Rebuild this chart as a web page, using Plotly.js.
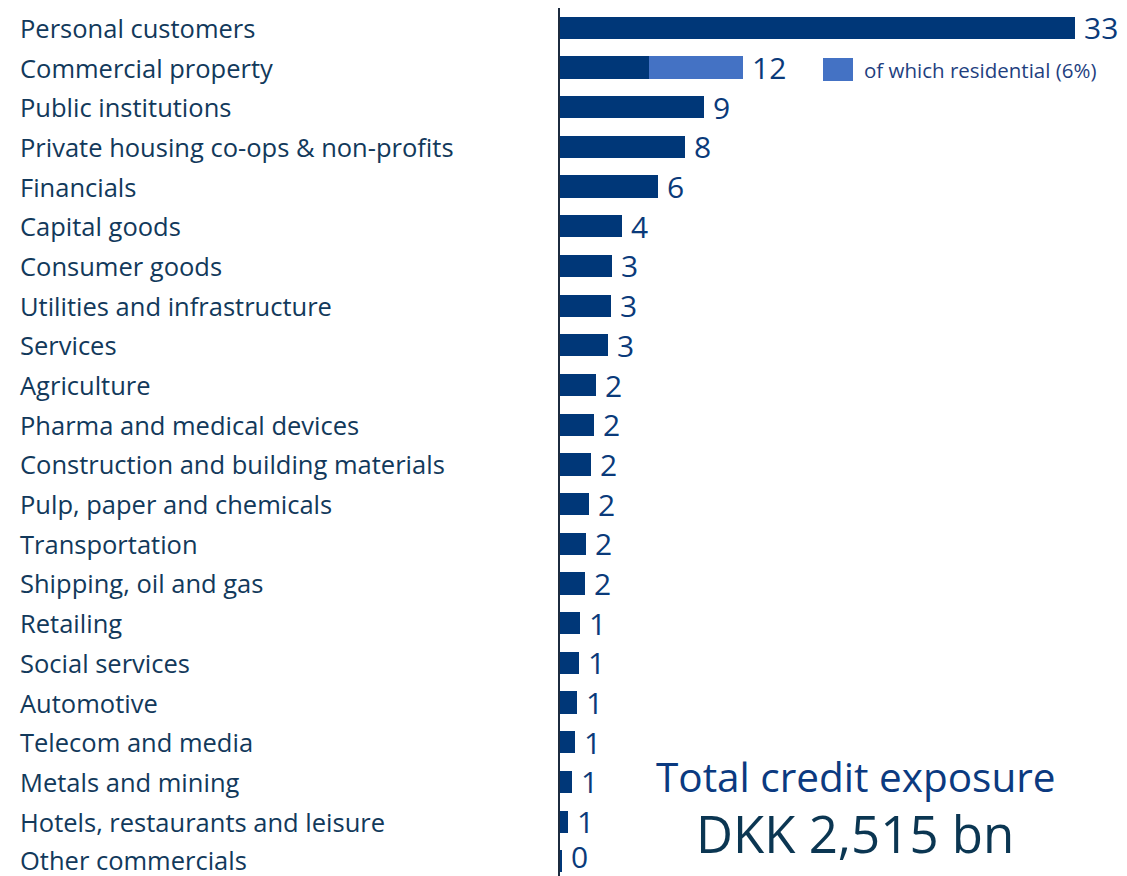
<!DOCTYPE html>
<html>
<head>
<meta charset="utf-8">
<script src="https://cdn.plot.ly/plotly-3.0.1.min.js"></script>
<style>html,body{margin:0;padding:0;background:#fff;}#chart{width:1127px;height:876px;}</style>
</head>
<body>
<div id="chart"></div>
<script>
const categories = [
  "Personal customers",
  "Commercial property",
  "Public institutions",
  "Private housing co-ops & non-profits",
  "Financials",
  "Capital goods",
  "Consumer goods",
  "Utilities and infrastructure",
  "Services",
  "Agriculture",
  "Pharma and medical devices",
  "Construction and building materials",
  "Pulp, paper and chemicals",
  "Transportation",
  "Shipping, oil and gas",
  "Retailing",
  "Social services",
  "Automotive",
  "Telecom and media",
  "Metals and mining",
  "Hotels, restaurants and leisure",
  "Other commercials"
];
// share of total credit exposure (%), total per sector
const totals = [33.0, 11.7, 9.2, 8.0, 6.25, 4.0, 3.3, 3.28, 3.05, 2.3, 2.15, 1.96, 1.83, 1.68, 1.62, 1.3, 1.21, 1.07, 0.98, 0.77, 0.53, 0.1];
// of which residential (%)
const residential = [0, 6.0, 0, 0, 0, 0, 0, 0, 0, 0, 0, 0, 0, 0, 0, 0, 0, 0, 0, 0, 0, 0];
const valueLabels = ["33", "12", "9", "8", "6", "4", "3", "3", "3", "2", "2", "2", "2", "2", "2", "1", "1", "1", "1", "1", "1", "0"];
const legendLabel = "of which residential (6%)";
const totalTitle = "Total credit exposure";
const totalValue = "DKK 2,515 bn";

const W = 1127, H = 876, L = 560, T = 8;
const pxPerUnit = 15.62;
const xMax = (W - L) / pxPerUnit;
const px2paperX = p => (p - L) / (W - L);
const px2paperY = p => (H - p) / (H - T);
const FONT = 'Open Sans';

const base = totals.map((t, i) => t - residential[i]);

const traces = [
  {type: 'bar', orientation: 'h', y: categories, x: base, marker: {color: '#003778'}, width: 0.56, hoverinfo: 'skip', showlegend: false},
  {type: 'bar', orientation: 'h', y: categories, x: residential, marker: {color: '#4472c4'}, width: 0.56, hoverinfo: 'skip', showlegend: false}
];

const annotations = [];
const last = categories.length - 1;
categories.forEach((c, i) => {
  annotations.push({xref: 'paper', yref: 'y', x: px2paperX(20), y: c, xanchor: 'left', yanchor: 'middle', yshift: i === last ? 1 : 0, borderpad: 0, borderwidth: 0,
    text: c, showarrow: false, font: {family: FONT, size: 25.5, color: '#12395b'}});
  annotations.push({xref: 'x', yref: 'y', x: totals[i], y: c, xanchor: 'left', yanchor: 'middle', xshift: 9, yshift: i === last ? 5 : 0, borderpad: 0, borderwidth: 0,
    text: valueLabels[i], showarrow: false, font: {family: FONT, size: 30, color: '#0a3a7a'}});
});
annotations.push({xref: 'paper', yref: 'paper', x: px2paperX(864), y: px2paperY(70), xanchor: 'left', yanchor: 'middle', borderpad: 0, borderwidth: 0,
  text: legendLabel, showarrow: false, font: {family: FONT, size: 20.5, color: '#1f3f7f'}});
annotations.push({xref: 'paper', yref: 'paper', x: px2paperX(855.5), y: px2paperY(776.5), xanchor: 'center', yanchor: 'middle', borderpad: 0, borderwidth: 0,
  text: totalTitle, showarrow: false, font: {family: FONT, size: 40.5, color: '#0b3a80'}});
annotations.push({xref: 'paper', yref: 'paper', x: px2paperX(855), y: px2paperY(833), xanchor: 'center', yanchor: 'middle', borderpad: 0, borderwidth: 0,
  text: totalValue, showarrow: false, font: {family: FONT, size: 51, color: '#0b3652'}});

const layout = {
  width: W, height: H,
  margin: {l: L, r: 0, t: T, b: 0, pad: 0},
  paper_bgcolor: '#ffffff', plot_bgcolor: '#ffffff',
  barmode: 'stack',
  showlegend: false,
  xaxis: {range: [0, xMax], showgrid: false, zeroline: false, showticklabels: false, ticks: '', showline: false, fixedrange: true},
  yaxis: {type: 'category', categoryorder: 'array', categoryarray: categories, range: [21.37, -0.5], autorange: false,
          showgrid: false, zeroline: false, showticklabels: false, ticks: '', showline: true, linecolor: '#1c2b3f', linewidth: 2, fixedrange: true},
  shapes: [{type: 'rect', xref: 'paper', yref: 'paper', x0: px2paperX(823), x1: px2paperX(853), y0: px2paperY(81), y1: px2paperY(58), fillcolor: '#4472c4', line: {width: 0}}],
  annotations: annotations
};

Plotly.newPlot('chart', traces, layout, {displayModeBar: false, staticPlot: true});
</script>
</body>
</html>
